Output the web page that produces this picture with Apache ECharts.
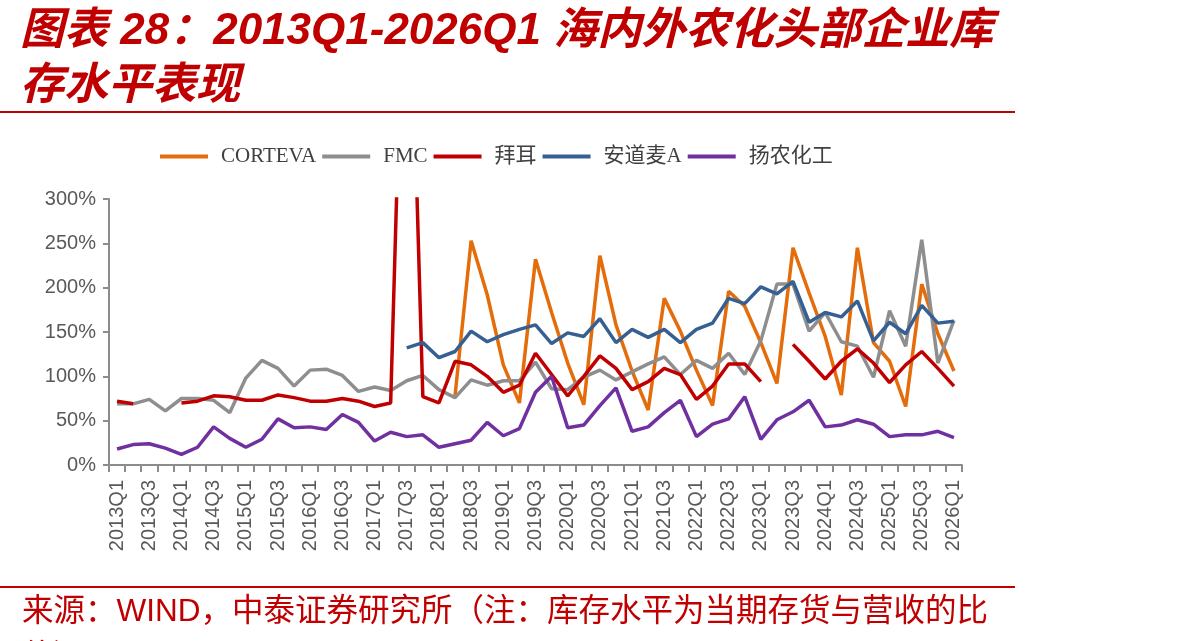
<!DOCTYPE html>
<html>
<head>
    <meta charset="utf-8">
    <title>海内外农化头部企业库存水平</title>
    <script src="https://cdn.jsdelivr.net/npm/echarts@6.0.0/dist/echarts.min.js"></script>
    <style>
        html, body { margin: 0; padding: 0; background: #fff; }
        #chartmain { width: 1192px; height: 641px; }
    </style>
</head>
<body>
    <div id="chartmain"></div>

    <script type="text/javascript">
        // 季度
        var quarters = [
            '2013Q1','2013Q2','2013Q3','2013Q4','2014Q1','2014Q2','2014Q3','2014Q4',
            '2015Q1','2015Q2','2015Q3','2015Q4','2016Q1','2016Q2','2016Q3','2016Q4',
            '2017Q1','2017Q2','2017Q3','2017Q4','2018Q1','2018Q2','2018Q3','2018Q4',
            '2019Q1','2019Q2','2019Q3','2019Q4','2020Q1','2020Q2','2020Q3','2020Q4',
            '2021Q1','2021Q2','2021Q3','2021Q4','2022Q1','2022Q2','2022Q3','2022Q4',
            '2023Q1','2023Q2','2023Q3','2023Q4','2024Q1','2024Q2','2024Q3','2024Q4',
            '2025Q1','2025Q2','2025Q3','2025Q4','2026Q1'
        ];

        // 库存水平 (%)，null 为缺数
        var corteva = [
            null, null, null, null, null, null, null, null, null, null, null, null, null, null,
            null, null, null, null, null, null, null, 78, 253, 192, 113, 70, 232, 172,
            115, 68, 236, 158, 106, 62, 188, 151, 107, 67, 196, 179, 138, 92,
            245, 194, 145, 79, 245, 138, 117, 66, 204, 148, 106
        ];
        var fmc = [
            69, 69, 74, 61, 75, 75, 73, 59, 98, 118, 109, 89, 107, 108,
            101, 83, 88, 84, 95, 101, 85, 76, 96, 90, 95, 95, 116, 86,
            85, 99, 107, 96, 105, 114, 122, 102, 118, 109, 126, 102, 140, 204,
            204, 151, 172, 139, 134, 99, 174, 134, 254, 115, 163
        ];
        var bayer = [
            72, 69, null, null, 70, 72, 78, 77, 73, 73, 79, 76, 72, 72,
            75, 72, 66, 70, 700, 77, 70, 117, 113, 100, 82, 90, 126, 102,
            78, 100, 123, 109, 85, 94, 109, 102, 74, 89, 114, 114, 94, null,
            136, 117, 97, 117, 131, 115, 93, 113, 128, 109, 89
        ];
        var adama = [
            null, null, null, null, null, null, null, null, null, null, null, null, null, null,
            null, null, null, null, 132, 138, 121, 128, 151, 139, 147, 153, 158, 137,
            149, 145, 165, 138, 153, 144, 153, 138, 153, 160, 188, 182, 201, 193,
            207, 161, 172, 167, 185, 140, 161, 148, 180, 160, 162
        ];
        var yangnong = [
            18, 23, 24, 19, 12, 20, 43, 30, 20, 29, 52, 42, 43, 40,
            57, 48, 27, 37, 32, 34, 20, 24, 28, 48, 33, 41, 82, 100,
            42, 45, 67, 87, 38, 43, 59, 73, 32, 46, 52, 77, 29, 51,
            60, 73, 43, 45, 51, 46, 32, 34, 34, 38, 31
        ];

        var seriesNames = ['CORTEVA', 'FMC', '拜耳', '安道麦A', '扬农化工'];
        var seriesData = [corteva, fmc, bayer, adama, yangnong];
        var seriesColors = ['#E46C0A', '#8E8E8E', '#C00000', '#376092', '#7030A0'];

        var yTicks = [0, 50, 100, 150, 200, 250, 300];

        var red = '#C00000';
        var axisGray = '#8C8C8C';
        var labelGray = '#595959';

        var myChart = echarts.init(document.getElementById('chartmain'));

        var series = seriesNames.map(function (name, i) {
            return {
                name: name,
                type: 'line',
                data: seriesData[i],
                showSymbol: false,
                symbol: 'none',
                connectNulls: false,
                clip: true,
                lineStyle: { width: 3.5, color: seriesColors[i] },
                itemStyle: { color: seriesColors[i] }
            };
        });

        myChart.setOption({
            backgroundColor: '#fff',
            animation: false,
            title: [
                {
                    text: '图表 28：2013Q1-2026Q1 海内外农化头部企业库\n存水平表现',
                    left: 20,
                    top: 4,
                    padding: 0,
                    textStyle: {
                        color: red,
                        fontSize: 44,
                        fontWeight: 'bold',
                        fontStyle: 'italic',
                        fontFamily: '"Liberation Sans", "Noto Sans CJK SC"',
                        lineHeight: 55
                    }
                },
                {
                    text: '来源：WIND，中泰证券研究所（注：库存水平为当期存货与营收的比\n值）',
                    left: 22,
                    top: 589,
                    padding: 0,
                    textStyle: {
                        color: red,
                        fontSize: 31.5,
                        fontWeight: 'normal',
                        fontFamily: '"Liberation Sans", "Noto Sans CJK SC"',
                        lineHeight: 46
                    }
                }
            ],
            graphic: [
                {
                    type: 'line',
                    shape: { x1: 0, y1: 112, x2: 1015, y2: 112 },
                    style: { stroke: red, lineWidth: 2 }
                },
                {
                    type: 'line',
                    shape: { x1: 0, y1: 587, x2: 1015, y2: 587 },
                    style: { stroke: red, lineWidth: 2 }
                }
            ],
            legend: {
                data: seriesNames,
                left: 160,
                top: 146,
                padding: 0,
                icon: 'rect',
                itemWidth: 48,
                itemHeight: 4,
                itemGap: 6,
                textStyle: {
                    color: '#404040',
                    fontSize: 21,
                    fontFamily: '"Liberation Serif", "Noto Sans CJK SC"',
                    padding: [0, 0, 0, 8]
                }
            },
            grid: {
                left: 109,
                right: 230,
                top: 199,
                bottom: 176,
                containLabel: false
            },
            xAxis: {
                type: 'category',
                data: quarters,
                boundaryGap: true,
                axisLine: { lineStyle: { color: axisGray, width: 2 } },
                axisTick: {
                    show: true,
                    interval: 0,
                    length: 7,
                    lineStyle: { color: axisGray, width: 2 }
                },
                axisLabel: {
                    interval: 1,
                    rotate: 90,
                    margin: 15,
                    color: labelGray,
                    fontSize: 20,
                    fontFamily: '"Liberation Sans", Arial'
                },
                splitLine: { show: false }
            },
            yAxis: {
                type: 'value',
                min: yTicks[0],
                max: yTicks[yTicks.length - 1],
                interval: 50,
                axisLine: { show: true, lineStyle: { color: axisGray, width: 2 } },
                axisTick: { show: true, length: 6, lineStyle: { color: axisGray, width: 2 } },
                axisLabel: {
                    formatter: '{value}%',
                    margin: 13,
                    color: labelGray,
                    fontSize: 20,
                    fontFamily: '"Liberation Sans", Arial'
                },
                splitLine: { show: false }
            },
            series: series
        });
    </script>
</body>
</html>
